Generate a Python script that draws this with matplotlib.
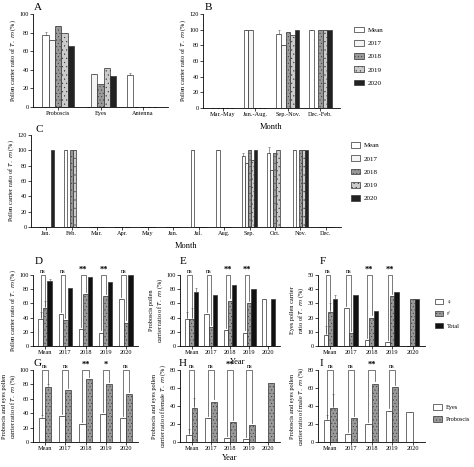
import matplotlib
matplotlib.use('Agg')
import matplotlib.pyplot as plt
import numpy as np
from matplotlib.patches import Patch

plt.rcParams['font.family'] = ['Liberation Serif', 'DejaVu Sans']
plt.rcParams['font.size'] = 5
plt.rcParams['hatch.linewidth'] = 0.3

series = ['Mean', '2017', '2018', '2019', '2020']
scol = ['white', '#f4f4f4', '#999999', '#cccccc', '#222222']
shat = [None, None, '.....', '....', None]

a_cats = ['Proboscis', 'Eyes', 'Antenna']
a_vals = [[77, 72, 87, 80, 66], [0, 36, 25, 42, 33], [34, 0, 0, 0, 0]]
a_err = [[4, 0, 0, 0, 0], [0, 0, 0, 0, 0], [3, 0, 0, 0, 0]]

b_cats = ['Mar.-May', 'Jun.-Aug.', 'Sep.-Nov.', 'Dec.-Feb.']
b_vals = [[0, 0, 0, 0, 0], [100, 100, 0, 0, 0], [95, 80, 97, 93, 100], [100, 0, 100, 100, 100]]
b_err = [[0]*5, [0]*5, [4, 0, 0, 0, 0], [0]*5]

c_cats = ['Jan.', 'Feb.', 'Mar.', 'Apr.', 'May', 'Jun.', 'Jul.', 'Aug.', 'Sep.', 'Oct.', 'Nov.', 'Dec.']
c_vals = [[0, 0, 0, 0, 100], [100, 0, 100, 100, 0], [0]*5, [0]*5, [0]*5, [0]*5,
          [100, 0, 0, 0, 0], [100, 0, 0, 0, 0], [92, 83, 100, 88, 100],
          [97, 75, 97, 100, 0], [100, 0, 100, 100, 100], [0]*5]
c_err = [[0]*5]*8 + [[4, 0, 0, 0, 0], [7, 0, 0, 0, 0], [0]*5, [0]*5]

years = ['Mean', '2017', '2018', '2019', '2020']
d_f = [38, 45, 24, 19, 66]; d_m = [53, 36, 73, 70, 33]; d_t = [92, 81, 97, 90, 100]
d_err = [[10, 0, 0, 0, 0], [10, 0, 0, 0, 0], [3, 0, 0, 0, 0]]
d_sig = ['ns', 'ns', '**', '**', 'ns']
e_f = [38, 45, 22, 19, 66]; e_m = [38, 27, 64, 61, 0]; e_t = [76, 72, 86, 80, 66]
e_err = [[10, 0, 0, 0, 0], [15, 0, 0, 0, 0], [5, 0, 0, 0, 0]]
e_sig = ['ns', 'ns', '**', '**', None]
f_f = [8, 27, 4, 3, 0]; f_m = [24, 9, 20, 35, 33]; f_t = [33, 36, 25, 38, 33]
f_err = [[6, 0, 0, 0, 0], [6, 0, 0, 0, 0], [3, 0, 0, 0, 0]]
f_sig = ['ns', 'ns', '**', '**', None]
g_e = [34, 36, 25, 39, 33]; g_p = [77, 72, 87, 80, 66]
g_err = [[3, 0, 0, 0, 0], [4, 0, 0, 0, 0]]
g_sig = ['ns', 'ns', '**', '*', 'ns']
h_e = [8, 27, 4, 3, 0]; h_p = [38, 45, 22, 19, 66]
h_err = [[6, 0, 0, 0, 0], [11, 0, 0, 0, 0]]
h_sig = ['ns', 'ns', '**', 'ns', None]
i_e = [24, 9, 20, 35, 33]; i_p = [38, 27, 65, 61, 0]
i_err = [[6, 0, 0, 0, 0], [15, 0, 0, 0, 0]]
i_sig = ['ns', 'ns', '**', 'ns', None]

W, H = 474, 467
fig = plt.figure(figsize=(W/100, H/100), dpi=100)

def ax_px(x0, x1, ytop, ybot):
    return fig.add_axes([x0/W, 1 - ybot/H, (x1-x0)/W, (ybot-ytop)/H])

def style(ax):
    for s in ['top', 'right']:
        ax.spines[s].set_visible(False)
    for s in ['left', 'bottom']:
        ax.spines[s].set_linewidth(0.6)
    ax.tick_params(length=2, width=0.5, pad=1, labelsize=4.5)

def grouped(ax, cats, vals, errs, nser, cols, hats, width):
    x = np.arange(len(cats))
    for j in range(nser):
        off = (j - (nser-1)/2) * width
        v = [vals[i][j] for i in range(len(cats))]
        e = [errs[i][j] for i in range(len(cats))]
        ax.bar(x + off, v, width, color=cols[j], hatch=hats[j], edgecolor='#333333', linewidth=0.5,
               yerr=[[0]*len(v), e], error_kw=dict(elinewidth=0.4, capsize=1, capthick=0.4, ecolor='#555555'))
    ax.set_xticks(x)
    ax.set_xticklabels(cats)
    ax.set_xlim(-0.6, len(cats)-0.4)

def legend(ax, labels, cols, hats, loc, fs=5):
    h = [Patch(facecolor=c, edgecolor='#333333', hatch=hh, linewidth=0.5) for c, hh in zip(cols, hats)]
    ax.legend(h, labels, loc='center left', bbox_to_anchor=loc, frameon=False, fontsize=fs,
              handlelength=1.4, handleheight=0.9, labelspacing=1.0, borderpad=0, handletextpad=0.5)

ylab = 'Pollen carrier ratio of $\\it{T.\\ m}$ (%)'

def letter(ax, s, xpx, ypx):
    fig.text(xpx/W, 1 - ypx/H, s, fontsize=8, va='center', ha='left')

# A
ax = ax_px(33, 168, 14, 107); style(ax)
grouped(ax, a_cats, a_vals, a_err, 5, scol, shat, 0.15)
ax.set_ylim(0, 100); ax.set_yticks(range(0, 101, 20))
ax.set_ylabel(ylab, fontsize=4.5, labelpad=1)
letter(ax, 'A', 34, 7)

# B
ax = ax_px(203, 340, 14, 108); style(ax)
grouped(ax, b_cats, b_vals, b_err, 5, scol, shat, 0.14)
ax.set_ylim(0, 120); ax.set_yticks(range(0, 121, 20))
ax.set_ylabel(ylab, fontsize=4.5, labelpad=1)
ax.set_xlabel('Month', fontsize=6, labelpad=4)
letter(ax, 'B', 205, 7)
legend(ax, series, scol, shat, (1.08, 0.55))

# C
ax = ax_px(31, 341, 135, 227); style(ax)
grouped(ax, c_cats, c_vals, c_err, 5, scol, shat, 0.12)
ax.set_ylim(0, 120); ax.set_yticks(range(0, 121, 20))
ax.set_ylabel(ylab, fontsize=4.5, labelpad=1)
ax.set_xlabel('Month', fontsize=6, labelpad=4)
letter(ax, 'C', 35, 130)
legend(ax, series, scol, shat, (1.02, 0.6))

def sig_brackets(ax, a, b, offa, offb, sig, ymax):
    for i, s in enumerate(sig):
        if s is None:
            continue
        top = ymax * 1.0
        xa, xb = i + offa, i + offb
        ax.plot([xa, xa, xb, xb], [a[i] + ymax*0.03, top, top, b[i] + ymax*0.03],
                color='#444444', lw=0.5, clip_on=False)
        ax.text((xa+xb)/2, top + ymax*0.02, s, ha='center', va='bottom',
                fontsize=4.5 if s == 'ns' else 6, fontweight='bold' if s != 'ns' else 'normal')

def three(ax, f, m, t, errs, sig, ymax, step, lab):
    style(ax)
    w = 0.22
    vals = [[f[i], m[i], t[i]] for i in range(5)]
    er = [[errs[0][i], errs[1][i], errs[2][i]] for i in range(5)]
    grouped(ax, years, vals, er, 3, ['white', '#999999', '#111111'], [None, '.....', None], w)
    ax.set_ylim(0, ymax); ax.set_yticks(range(0, ymax+1, step))
    ax.set_ylabel(lab, fontsize=4.5, labelpad=1)
    sig_brackets(ax, f, m, -w, 0, sig, ymax)

def two(ax, e, p, errs, sig, ymax, step, lab):
    style(ax)
    w = 0.3
    vals = [[e[i], p[i]] for i in range(5)]
    er = [[errs[0][i], errs[1][i]] for i in range(5)]
    grouped(ax, years, vals, er, 2, ['white', '#999999'], [None, '.....'], w)
    ax.set_ylim(0, ymax); ax.set_yticks(range(0, ymax+1, step))
    ax.set_ylabel(lab, fontsize=4.5, labelpad=1)
    sig_brackets(ax, e, p, -w/2, w/2, sig, ymax)

ax = ax_px(33, 138, 275, 346)
three(ax, d_f, d_m, d_t, d_err, d_sig, 100, 20, ylab)
letter(ax, 'D', 35, 262)
ax = ax_px(180, 280, 275, 346)
three(ax, e_f, e_m, e_t, e_err, e_sig, 100, 20, 'Proboscis pollen\ncarrier ratio of $\\it{T.\\ m}$ (%)')
letter(ax, 'E', 180, 262)
fig.text(238/W, 1 - 362/H, 'Year', fontsize=6, ha='center', va='center')
ax = ax_px(318, 425, 275, 346)
three(ax, f_f, f_m, f_t, f_err, f_sig, 50, 10, 'Eyes pollen carrier\nratio of $\\it{T.\\ m}$ (%)')
letter(ax, 'F', 320, 262)
legend(ax, ['♀', '♂', 'Total'], ['white', '#999999', '#111111'], [None, '.....', None], (1.06, 0.45), fs=4.5)

ax = ax_px(33, 138, 370, 442)
two(ax, g_e, g_p, g_err, g_sig, 100, 20, 'Proboscis and eyes pollen\ncarrier ratio of $\\it{T.\\ m}$ (%)')
letter(ax, 'G', 34, 364)
ax = ax_px(180, 280, 370, 442)
two(ax, h_e, h_p, h_err, h_sig, 80, 20, 'Proboscis and eyes pollen\ncarrier ratio of female $\\it{T.\\ m}$ (%)')
letter(ax, 'H', 179, 364)
ax.set_xlabel('Year', fontsize=6, labelpad=2)
ax = ax_px(318, 425, 370, 442)
two(ax, i_e, i_p, i_err, i_sig, 80, 20, 'Proboscis and eyes pollen\ncarrier ratio of male $\\it{T.\\ m}$ (%)')
letter(ax, 'I', 320, 364)
legend(ax, ['Eyes', 'Proboscis'], ['white', '#999999'], [None, '.....'], (1.05, 0.4), fs=4.5)

fig.savefig('out.png', dpi=100)
